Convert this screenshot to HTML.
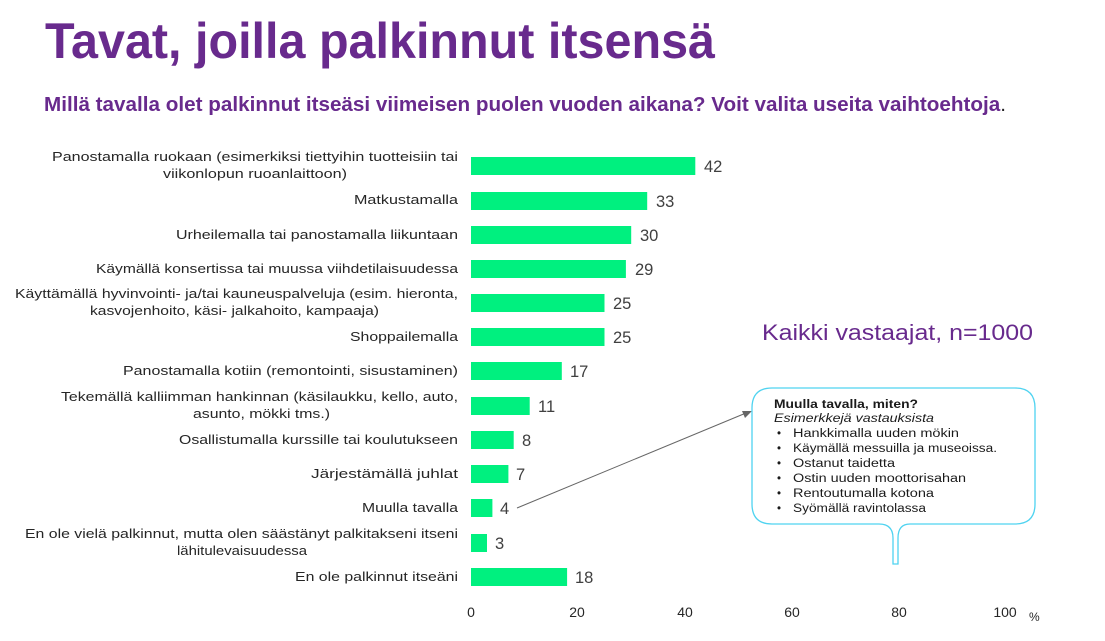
<!DOCTYPE html>
<html><head><meta charset="utf-8"><style>
html,body{margin:0;padding:0;background:#fff;width:1105px;height:641px;overflow:hidden}
svg{display:block;font-family:"Liberation Sans",Arial,sans-serif}
</style></head><body>
<svg width="1105" height="641" viewBox="0 0 1105 641" xmlns="http://www.w3.org/2000/svg">
<text x="45" y="58" font-size="50" font-weight="bold" fill="#682A8D" textLength="670" lengthAdjust="spacingAndGlyphs">Tavat, joilla palkinnut itsensä</text>
<text x="44" y="111" font-size="20" font-weight="bold" fill="#682A8D" textLength="962" lengthAdjust="spacingAndGlyphs">Millä tavalla olet palkinnut itseäsi viimeisen puolen vuoden aikana? Voit valita useita vaihtoehtoja<tspan fill="#222" font-weight="normal">.</tspan></text>
<g font-size="13.3" fill="#262626">
<text x="52" y="161" textLength="406" lengthAdjust="spacingAndGlyphs">Panostamalla ruokaan (esimerkiksi tiettyihin tuotteisiin tai</text>
<text x="163" y="178" textLength="184" lengthAdjust="spacingAndGlyphs">viikonlopun ruoanlaittoon)</text>
<text x="354" y="204" textLength="104" lengthAdjust="spacingAndGlyphs">Matkustamalla</text>
<text x="176" y="239" textLength="282" lengthAdjust="spacingAndGlyphs">Urheilemalla tai panostamalla liikuntaan</text>
<text x="96" y="273" textLength="362" lengthAdjust="spacingAndGlyphs">Käymällä konsertissa tai muussa viihdetilaisuudessa</text>
<text x="15" y="298" textLength="443" lengthAdjust="spacingAndGlyphs">Käyttämällä hyvinvointi- ja/tai kauneuspalveluja (esim. hieronta,</text>
<text x="90" y="315" textLength="289" lengthAdjust="spacingAndGlyphs">kasvojenhoito, käsi- jalkahoito, kampaaja)</text>
<text x="350" y="341" textLength="108" lengthAdjust="spacingAndGlyphs">Shoppailemalla</text>
<text x="123" y="375" textLength="335" lengthAdjust="spacingAndGlyphs">Panostamalla kotiin (remontointi, sisustaminen)</text>
<text x="61" y="401" textLength="397" lengthAdjust="spacingAndGlyphs">Tekemällä kalliimman hankinnan (käsilaukku, kello, auto,</text>
<text x="193" y="418" textLength="137" lengthAdjust="spacingAndGlyphs">asunto, mökki tms.)</text>
<text x="179" y="444" textLength="279" lengthAdjust="spacingAndGlyphs">Osallistumalla kurssille tai koulutukseen</text>
<text x="311" y="478" textLength="147" lengthAdjust="spacingAndGlyphs">Järjestämällä juhlat</text>
<text x="362" y="512" textLength="96" lengthAdjust="spacingAndGlyphs">Muulla tavalla</text>
<text x="25" y="538" textLength="433" lengthAdjust="spacingAndGlyphs">En ole vielä palkinnut, mutta olen säästänyt palkitakseni itseni</text>
<text x="177" y="555" textLength="130" lengthAdjust="spacingAndGlyphs">lähitulevaisuudessa</text>
<text x="295" y="581" textLength="163" lengthAdjust="spacingAndGlyphs">En ole palkinnut itseäni</text>
</g>
<g fill="#00F07F">
<rect x="471" y="157" width="224.3" height="18"/>
<rect x="471" y="192" width="176.2" height="18"/>
<rect x="471" y="226" width="160.2" height="18"/>
<rect x="471" y="260" width="154.9" height="18"/>
<rect x="471" y="294" width="133.5" height="18"/>
<rect x="471" y="328" width="133.5" height="18"/>
<rect x="471" y="362" width="90.8" height="18"/>
<rect x="471" y="397" width="58.7" height="18"/>
<rect x="471" y="431" width="42.7" height="18"/>
<rect x="471" y="465" width="37.4" height="18"/>
<rect x="471" y="499" width="21.4" height="18"/>
<rect x="471" y="534" width="16" height="18"/>
<rect x="471" y="568" width="96.1" height="18"/>
</g>
<g font-size="16.5" fill="#404040">
<text x="704" y="172">42</text>
<text x="656" y="207">33</text>
<text x="640" y="241">30</text>
<text x="635" y="275">29</text>
<text x="613" y="309">25</text>
<text x="613" y="343">25</text>
<text x="570" y="377">17</text>
<text x="538" y="412">11</text>
<text x="522" y="446">8</text>
<text x="516" y="480">7</text>
<text x="500" y="514">4</text>
<text x="495" y="549">3</text>
<text x="575" y="583">18</text>
</g>
<g font-size="14" fill="#262626" text-anchor="middle">
<text x="471" y="617">0</text>
<text x="577" y="617">20</text>
<text x="685" y="617">40</text>
<text x="792" y="617">60</text>
<text x="899" y="617">80</text>
<text x="1005" y="617">100</text>
</g>
<text x="1029" y="621" font-size="12" fill="#262626">%</text>
<text x="762" y="340" font-size="22" fill="#682A8D" textLength="271" lengthAdjust="spacingAndGlyphs">Kaikki vastaajat, n=1000</text>
<line x1="517" y1="508" x2="746" y2="413" stroke="#666" stroke-width="1"/>
<polygon points="752,411 742,411 745,418" fill="#666"/>
<path d="M772,388 H1015 Q1035,388 1035,408 V504 Q1035,524 1015,524 H910 Q898,524 898,538 V564 H893 V538 Q893,524 879,524 H772 Q752,524 752,504 V408 Q752,388 772,388 Z" fill="#fff" stroke="#4FD3F0" stroke-width="1.3"/>
<g font-size="11.5" fill="#1a1a1a">
<text x="774" y="408" font-weight="bold" textLength="144" lengthAdjust="spacingAndGlyphs">Muulla tavalla, miten?</text>
<text x="774" y="422" font-style="italic" textLength="160" lengthAdjust="spacingAndGlyphs">Esimerkkejä vastauksista</text>
<text x="777" y="437">•</text><text x="793" y="437" textLength="166" lengthAdjust="spacingAndGlyphs">Hankkimalla uuden mökin</text>
<text x="777" y="452">•</text><text x="793" y="452" textLength="204" lengthAdjust="spacingAndGlyphs">Käymällä messuilla ja museoissa.</text>
<text x="777" y="467">•</text><text x="793" y="467" textLength="102" lengthAdjust="spacingAndGlyphs">Ostanut taidetta</text>
<text x="777" y="482">•</text><text x="793" y="482" textLength="173" lengthAdjust="spacingAndGlyphs">Ostin uuden moottorisahan</text>
<text x="777" y="497">•</text><text x="793" y="497" textLength="141" lengthAdjust="spacingAndGlyphs">Rentoutumalla kotona</text>
<text x="777" y="512">•</text><text x="793" y="512" textLength="133" lengthAdjust="spacingAndGlyphs">Syömällä ravintolassa</text>
</g>
</svg>
</body></html>
